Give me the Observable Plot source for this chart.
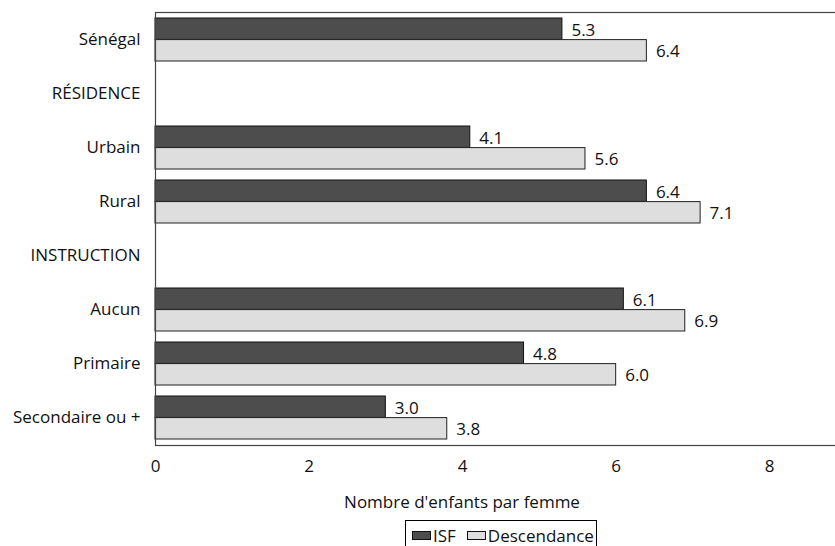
<!DOCTYPE html>
<html>
<head>
<meta charset="utf-8">
<script src="https://cdn.jsdelivr.net/npm/d3@7"></script>
<script src="https://cdn.jsdelivr.net/npm/@observablehq/plot@0.6"></script>
<style>
  html, body { margin: 0; padding: 0; background: #fff; overflow: hidden; }
  body { width: 835px; height: 546px; position: relative; font-family: "Open Sans", sans-serif; }
  #chart svg { display: block; max-width: none !important; }
  #xtitle { position: absolute; left: 262px; width: 400px; top: 490px; text-align: center; font-size: 17px; color: #111; }
  #legend { position: absolute; left: 405px; top: 520px; width: 192px; height: 30px; border: 1px solid #000; box-sizing: border-box;
            display: flex; align-items: center; font-size: 17px; color: #111; padding-left: 6px; }
  .sw { display: inline-block; width: 19px; height: 9px; border: 1px solid #111; margin-right: 2px; box-sizing: border-box; }
</style>
</head>
<body>
<div id="chart"></div>
<div id="xtitle"></div>
<div id="legend">
  <span class="sw" style="background:#4d4d4d"></span><span>ISF</span>
  <span style="width:11px;display:inline-block"></span>
  <span class="sw" style="background:#dedede"></span><span>Descendance</span>
</div>
<script>
const categories = ["Sénégal", "RÉSIDENCE", "Urbain", "Rural", "INSTRUCTION", "Aucun", "Primaire", "Secondaire ou +"];
const isf =         [5.3, null, 4.1, 6.4, null, 6.1, 4.8, 3.0];
const descendance = [6.4, null, 5.6, 7.1, null, 6.9, 6.0, 3.8];
const xTicks = [0, 2, 4, 6, 8];
const xLabel = "Nombre d'enfants par femme";

const isfData = categories.map((c, i) => ({cat: c, v: isf[i]})).filter(d => d.v != null);
const desData = categories.map((c, i) => ({cat: c, v: descendance[i]})).filter(d => d.v != null);
const half = 21.6;
const fmt = d3.format(".1f");

const chart = Plot.plot({
  width: 846,
  height: 488,
  marginLeft: 155,
  marginRight: 0,
  marginTop: 12,
  marginBottom: 43,
  style: {fontFamily: "Open Sans, sans-serif", fontSize: "17px", color: "#111", background: "#fff"},
  x: {domain: [0, 9], ticks: xTicks, tickSize: 0, tickPadding: 14, tickFormat: d => d, label: null},
  y: {domain: categories, paddingInner: 0.2, paddingOuter: 0.1, tickSize: 0, tickPadding: 15, label: null},
  marks: [
    Plot.barX(isfData, {x: "v", y: "cat", fill: "#4d4d4d", stroke: "#111", strokeWidth: 1, insetBottom: half}),
    Plot.barX(desData, {x: "v", y: "cat", fill: "#dedede", stroke: "#222", strokeWidth: 1, insetTop: half}),
    Plot.text(isfData, {x: "v", y: "cat", text: d => fmt(d.v), dx: 9, dy: -half / 2 + 1, textAnchor: "start", fontSize: 17, fill: "#111"}),
    Plot.text(desData, {x: "v", y: "cat", text: d => fmt(d.v), dx: 9, dy: half / 2 + 1, textAnchor: "start", fontSize: 17, fill: "#111"}),
    Plot.frame({stroke: "#444", strokeWidth: 1.2})
  ]
});
chart.style.maxWidth = "none";
chart.style.height = "488px";
document.getElementById("chart").appendChild(chart);
document.getElementById("xtitle").textContent = xLabel;
</script>
</body>
</html>
